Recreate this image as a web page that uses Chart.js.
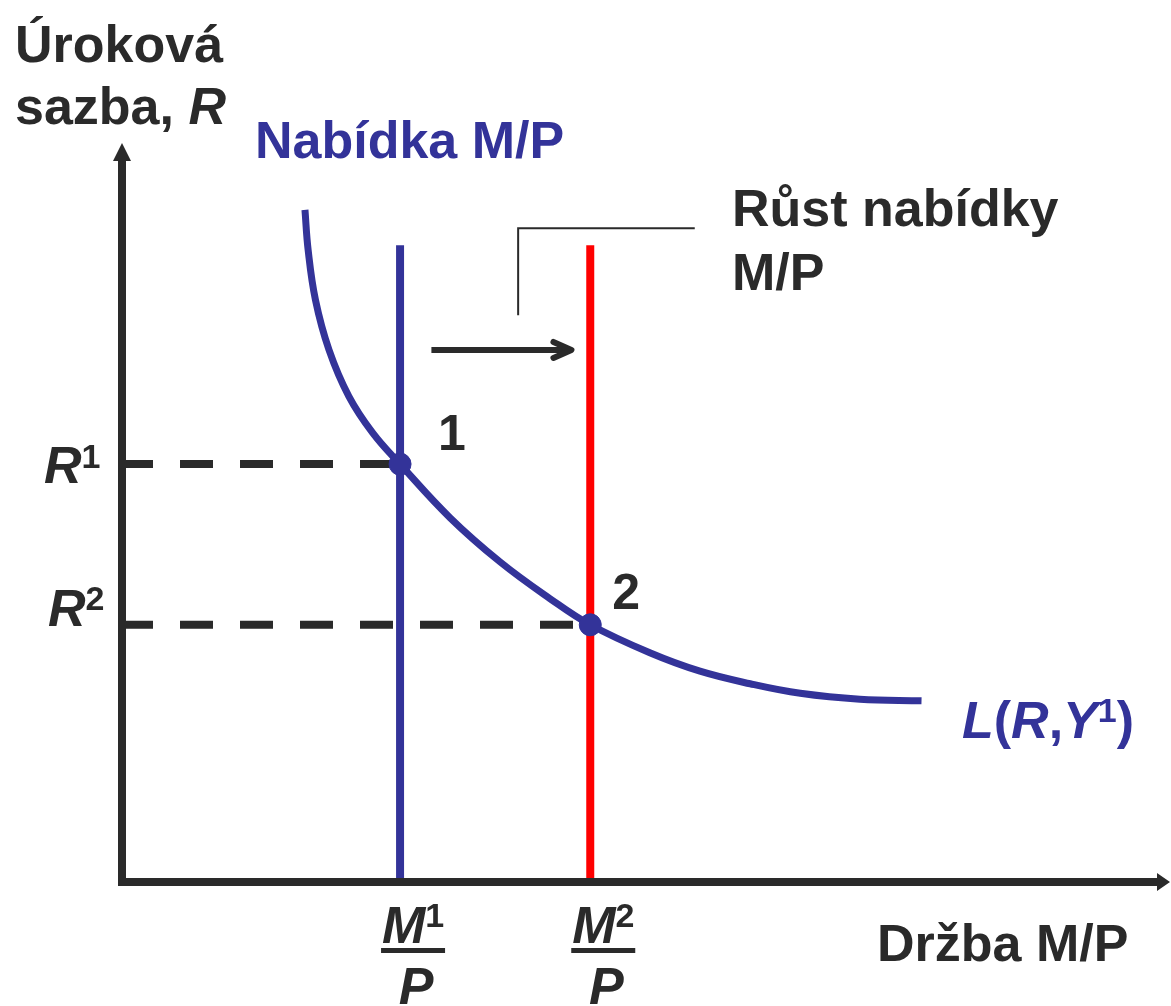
<!DOCTYPE html>
<html>
<head>
<meta charset="utf-8">
<script src="https://cdn.jsdelivr.net/npm/chart.js@4.4.1/dist/chart.umd.min.js"></script>
<style>
  html, body { margin: 0; padding: 0; background: #fff; overflow: hidden; }
  #wrap { width: 1171px; height: 1006px; position: relative; }
  canvas { display: block; }
</style>
</head>
<body>
<div id="wrap"><canvas id="money-chart"></canvas></div>
<script>
// money market diagram: L(R,Y1) demand curve and two supply levels
const CURVE_X = [17.7, 18.0, 18.7, 20.0, 21.9, 24.2, 26.8, 31.6, 36.4, 41.1, 45.0, 50.7, 55.5, 60.3, 65.1, 70.8, 76.7];
const CURVE_Y = [91.2, 85.8, 79.0, 72.2, 65.9, 60.9, 56.7, 49.4, 43.4, 38.5, 34.9, 31.1, 28.6, 26.9, 25.6, 24.8, 24.6];

const SUPPLY_X = [26.8, 45.0];       // M1/P, M2/P
const RATE_Y = [56.7, 34.9];         // R1, R2
const SUPPLY_TOP = 86.4;

const SHIFT_X = [29.8, 43.2];
const SHIFT_Y = 72.2;
const CALLOUT_X = [38.1, 38.1, 55.0];
const CALLOUT_Y = [76.9, 88.7, 88.7];

const INK = '#2a2a2a';
const BLUE = '#333399';
const RED = '#ff0000';
const FONT = '"Liberation Sans", Arial, Helvetica, sans-serif';

const pts = (xs, ys) => xs.map((x, i) => ({ x, y: ys[i] }));

function drawSup(ctx, main, sup, x, y, size, color, italic) {
    ctx.fillStyle = color;
    ctx.textAlign = 'left';
    ctx.textBaseline = 'alphabetic';
    ctx.font = `${italic ? 'italic ' : ''}bold ${size}px ${FONT}`;
    ctx.fillText(main, x, y);
    const w = ctx.measureText(main).width;
    ctx.font = `bold ${Math.round(size * 0.65)}px ${FONT}`;
    ctx.fillText(sup, x + w, y - size * 0.3);
}

const decor = {
    id: 'decor',
    afterDatasetsDraw(chart) {
        const { ctx, chartArea: a, scales: { x, y } } = chart;
        ctx.save();

        // axes with arrowheads
        ctx.strokeStyle = INK; ctx.fillStyle = INK; ctx.lineWidth = 8; ctx.lineCap = 'butt';
        ctx.beginPath();
        ctx.moveTo(a.left + 2, a.top + 12); ctx.lineTo(a.left + 2, a.bottom + 4);
        ctx.moveTo(a.left - 2, a.bottom); ctx.lineTo(a.right - 4, a.bottom);
        ctx.stroke();
        ctx.beginPath();
        ctx.moveTo(a.left + 2, a.top - 2); ctx.lineTo(a.left - 7, a.top + 16); ctx.lineTo(a.left + 11, a.top + 16); ctx.closePath();
        ctx.moveTo(a.right + 5, a.bottom); ctx.lineTo(a.right - 8, a.bottom - 9); ctx.lineTo(a.right - 8, a.bottom + 9); ctx.closePath();
        ctx.fill();

        // shift arrow head
        const tx = x.getPixelForValue(SHIFT_X[1]), ty = y.getPixelForValue(SHIFT_Y);
        ctx.lineWidth = 6; ctx.lineCap = 'round'; ctx.lineJoin = 'round';
        ctx.beginPath();
        ctx.moveTo(tx - 18, ty - 8); ctx.lineTo(tx, ty); ctx.lineTo(tx - 18, ty + 8);
        ctx.stroke();

        // titles
        ctx.textAlign = 'left'; ctx.textBaseline = 'alphabetic';
        ctx.fillStyle = INK;
        ctx.font = `bold 52px ${FONT}`;
        ctx.fillText('Úroková', 15, 62);
        ctx.fillText('sazba, ', 15, 124);
        const sw = ctx.measureText('sazba, ').width;
        ctx.font = `italic bold 52px ${FONT}`;
        ctx.fillText('R', 15 + sw, 124);

        ctx.font = `bold 52px ${FONT}`;
        ctx.fillStyle = BLUE;
        ctx.fillText('Nabídka M/P', 255, 158);

        ctx.fillStyle = INK;
        ctx.fillText('Růst nabídky', 732, 226);
        ctx.fillText('M/P', 732, 290);
        ctx.fillText('Držba M/P', 877, 961);

        ctx.font = `bold 50px ${FONT}`;
        ctx.fillText('1', x.getPixelForValue(SUPPLY_X[0]) + 38, 450);
        ctx.fillText('2', x.getPixelForValue(SUPPLY_X[1]) + 22, 609);

        // R1, R2 tick labels
        drawSup(ctx, 'R', '1', 44, y.getPixelForValue(RATE_Y[0]) + 19, 52, INK, true);
        drawSup(ctx, 'R', '2', 48, y.getPixelForValue(RATE_Y[1]) + 1, 52, INK, true);

        // M/P fraction labels
        SUPPLY_X.forEach((v, i) => {
            const cx = x.getPixelForValue(v) + 13;
            ctx.font = `italic bold 52px ${FONT}`;
            const mw = ctx.measureText('M').width;
            ctx.font = `bold 34px ${FONT}`;
            const nw = ctx.measureText(String(i + 1)).width;
            const left = cx - (mw + nw) / 2;
            drawSup(ctx, 'M', String(i + 1), left, 943, 52, INK, true);
            ctx.fillRect(cx - 32, 948, 64, 5);
            ctx.font = `italic bold 52px ${FONT}`;
            ctx.textAlign = 'center';
            ctx.fillText('P', cx + 3, 1004);
            ctx.textAlign = 'left';
        });

        // L(R,Y1)
        ctx.fillStyle = BLUE;
        let lx = 962;
        const parts = [['L', true], ['(', false], ['R', true], [',', false], ['Y', true]];
        parts.forEach(([t, it]) => {
            ctx.font = `${it ? 'italic ' : ''}bold 52px ${FONT}`;
            ctx.fillText(t, lx, 738);
            lx += ctx.measureText(t).width;
        });
        ctx.font = `bold 34px ${FONT}`;
        ctx.fillText('1', lx, 722);
        lx += ctx.measureText('1').width;
        ctx.font = `bold 52px ${FONT}`;
        ctx.fillText(')', lx, 738);

        ctx.restore();
    }
};

const lineDs = (data, color, width, extra) => Object.assign({
    type: 'line', data, borderColor: color, borderWidth: width,
    pointRadius: 0, fill: false, tension: 0, showLine: true
}, extra || {});

new Chart(document.getElementById('money-chart'), {
    type: 'scatter',
    data: {
        datasets: [
            { data: pts(SUPPLY_X, RATE_Y), backgroundColor: BLUE, borderColor: BLUE, pointRadius: 11, showLine: false },
            lineDs(pts(CURVE_X, CURVE_Y), BLUE, 7, { tension: 0.4, borderCapStyle: 'butt' }),
            lineDs([{ x: 0, y: RATE_Y[0] }, { x: SUPPLY_X[0], y: RATE_Y[0] }], INK, 8, { borderDash: [33, 27] }),
            lineDs([{ x: 0, y: RATE_Y[1] }, { x: SUPPLY_X[1], y: RATE_Y[1] }], INK, 8, { borderDash: [33, 27] }),
            lineDs([{ x: SUPPLY_X[0], y: 0 }, { x: SUPPLY_X[0], y: SUPPLY_TOP }], BLUE, 8),
            lineDs([{ x: SUPPLY_X[1], y: 0 }, { x: SUPPLY_X[1], y: SUPPLY_TOP }], RED, 8),
            lineDs(pts(CALLOUT_X, CALLOUT_Y), INK, 2),
            lineDs([{ x: SHIFT_X[0], y: SHIFT_Y }, { x: SHIFT_X[1], y: SHIFT_Y }], INK, 6)
        ]
    },
    options: {
        responsive: true, maintainAspectRatio: false, animation: false,
        layout: { autoPadding: false, padding: { left: 120, right: 6, top: 145, bottom: 124 } },
        plugins: { legend: { display: false }, tooltip: { enabled: false } },
        scales: {
            x: { type: 'linear', min: 0, max: 100, display: false },
            y: { type: 'linear', min: 0, max: 100, display: false }
        }
    },
    plugins: [decor]
});
</script>
</body>
</html>
